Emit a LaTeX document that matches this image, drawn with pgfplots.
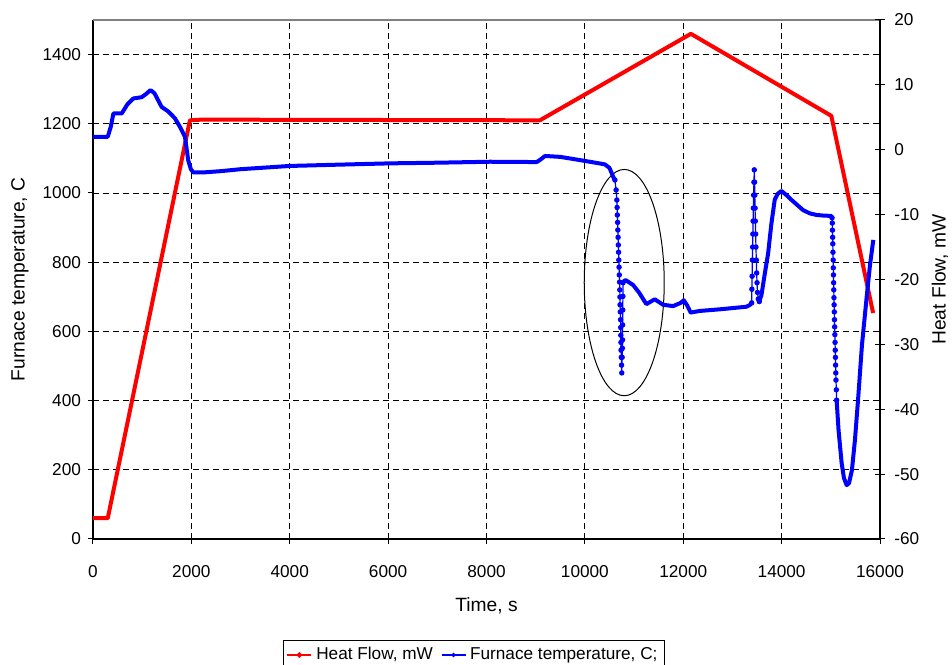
\documentclass[border=0pt]{standalone}
\usepackage{pgfplots}
\pgfplotsset{compat=1.18}
\usepackage{fontspec}
\setmainfont{Liberation Sans}
\definecolor{hfred}{RGB}{255,0,0}
\definecolor{ftblue}{RGB}{0,0,255}

\begin{document}
\begin{tikzpicture}
\pgfplotsset{
  every axis/.append style={font=\fontsize{8.6}{10}\selectfont},
  every axis label/.append style={font=\fontsize{9.6}{11}\selectfont},
  compact/.style={scale only axis, width=393.5pt, height=259.5pt, xmin=0, xmax=16000},
  thickblue/.style={ftblue, line width=2pt, line join=round, no marks},
  dotblue/.style={ftblue, line width=0.6pt, mark=*, mark size=1.05pt, mark options={solid}},
}
% left axis: time vs. furnace programme
\begin{axis}[
  compact,
  ymin=0, ymax=1500,
  xtick={0,2000,...,16000}, ytick={0,200,...,1400},
  axis x line*=bottom, axis y line*=left,
  tick align=outside, major tick length=2.5pt,
  /pgf/number format/assume math mode=true,
  /pgf/number format/1000 sep={},
  scaled x ticks=false,
  grid=major,
  grid style={black, dash pattern=on 3pt off 2pt, line width=0.4pt},
  axis line style={black, line width=0.7pt},
  tick style={black, line width=0.5pt},
  xticklabel style={yshift=-7pt},
  yticklabel style={xshift=0pt},
  xlabel={Time, s},
  xlabel style={at={(rel axis cs:0.5,0)}, anchor=center, yshift=-33.5pt},
  ylabel={Furnace temperature, C},
  ylabel style={at={(rel axis cs:0,0.5)}, anchor=center, rotate=0, yshift=36.5pt},
  legend style={at={(0.484,-0.195)}, anchor=north, legend columns=2,
    draw=black, line width=0.5pt, inner sep=1.3pt,
    font=\fontsize{8.6}{10}\selectfont,
    /tikz/every even column/.append style={column sep=2pt}},
  legend image code/.code={%
    \draw[mark repeat=2,mark phase=2,#1] plot coordinates {(0pt,0pt) (6pt,0pt) (12pt,0pt)};},
]
\draw[gray, line width=0.7pt] (rel axis cs:0,1) -- (rel axis cs:1,1);

\addplot[hfred, line width=2pt, line join=round, forget plot] coordinates {
  (0,60) (300,60) (1970,1210) (2200,1212) (9085,1210)
  (12155,1460) (15010,1223) (15860,653)
};
\addlegendimage{hfred, line width=1pt, mark=*, mark size=0.8pt}
\addlegendentry{Heat Flow, mW}
\addlegendimage{ftblue, line width=0.6pt, mark=*, mark size=0.8pt}
\addlegendentry{Furnace temperature, C;}

\draw[black, line width=0.5pt] (axis cs:10800,741) ellipse [x radius=813, y radius=327];
\end{axis}

% right axis: heat flow signal
\begin{axis}[
  compact,
  ymin=-60, ymax=20,
  ytick={-60,-50,...,20},
  axis x line=none, axis y line*=right,
  tick align=center, major tick length=5pt,
  axis line style={black, line width=0.7pt},
  tick style={black, line width=0.5pt},
  /pgf/number format/assume math mode=true,
  yticklabel style={xshift=1.1pt},
  ylabel={Heat Flow, mW},
  ylabel style={at={(rel axis cs:1,0.5)}, anchor=center, rotate=0, yshift=-30pt},
]
\coordinate (sw) at (rel axis cs:0,0);
\coordinate (ne) at (rel axis cs:1,1);

\addplot[thickblue] coordinates {
  (0,2.0) (300,2.0) (360,3.5) (415,5.6) (585,5.6) (700,7.0) (820,7.9)
  (990,8.1) (1080,8.6) (1170,9.2) (1250,8.7) (1395,6.6) (1530,5.9)
  (1665,4.85) (1770,3.5) (1870,2.0) (1935,-1.6) (1990,-3.0) (2040,-3.5)
  (2240,-3.5) (2600,-3.3) (3000,-3.0) (4000,-2.5) (5000,-2.3) (6035,-2.1)
  (7000,-2.0) (8070,-1.85) (9020,-1.9) (9100,-1.5) (9190,-0.96) (9500,-1.1)
  (9965,-1.68) (10405,-2.25) (10500,-2.8) (10575,-4.15) (10610,-4.66)
};
\addplot[dotblue] coordinates {
  (10610,-4.66) (10635,-6.2) (10650,-7.75) (10655,-8.9) (10660,-10.06)
  (10665,-11.2) (10670,-12.37) (10675,-13.5) (10680,-14.68) (10685,-15.8)
  (10690,-17.0) (10695,-18.1) (10700,-19.3) (10705,-20.4) (10710,-21.6)
  (10713,-22.7) (10715,-23.9) (10720,-25.0) (10725,-26.2) (10728,-27.4)
  (10730,-28.6) (10733,-29.7) (10735,-30.9) (10740,-32.0) (10745,-33.2)
  (10750,-34.4) (10758,-32.0) (10762,-30.6) (10765,-29.3) (10768,-27.0)
  (10770,-24.7) (10773,-22.6) (10775,-20.5)
};
\addplot[thickblue] coordinates {
  (10775,-20.5) (10800,-20.2) (10830,-20.1) (10980,-20.85) (11100,-22.0)
  (11250,-23.8) (11420,-23.05) (11590,-23.9) (11795,-24.1) (11950,-23.6)
  (12010,-23.2) (12080,-24.0) (12150,-25.1) (12335,-24.85) (12740,-24.6)
  (13285,-24.2) (13360,-23.9) (13391,-23.6)
};
\addplot[dotblue] coordinates {
  (13391,-23.6) (13395,-21.5) (13400,-19.5) (13405,-17.0) (13410,-15.0)
  (13415,-13.0) (13420,-11.0) (13425,-9.0) (13430,-7.0) (13437,-5.0)
  (13444,-3.1) (13450,-5.0) (13455,-7.0) (13460,-9.0) (13465,-11.0)
  (13472,-13.0) (13478,-15.0) (13485,-17.0) (13492,-19.0) (13500,-20.5)
  (13510,-22.0) (13525,-23.0) (13545,-23.4)
};
\addplot[thickblue] coordinates {
  (13545,-23.4) (13590,-22.4) (13660,-19.0) (13725,-16.0) (13790,-11.5)
  (13860,-7.7) (13920,-6.8) (13995,-6.35) (14100,-7.0) (14195,-7.7)
  (14300,-8.4) (14435,-9.3) (14570,-9.8) (14705,-10.05) (14850,-10.15)
  (15010,-10.2) (15025,-10.5)
};
\addplot[dotblue] coordinates {
  (15025,-10.5) (15030,-11.3) (15033,-12.4) (15037,-13.5) (15040,-14.5)
  (15044,-15.8) (15048,-17.0) (15051,-18.2) (15054,-19.3) (15057,-20.5)
  (15060,-21.6) (15064,-22.8) (15067,-23.9) (15071,-25.0) (15074,-26.2)
  (15078,-27.3) (15082,-28.5) (15086,-29.7) (15090,-30.9) (15094,-32.0)
  (15097,-33.2) (15101,-34.4) (15105,-35.5) (15112,-37.0) (15118,-38.6)
};
\addplot[thickblue] coordinates {
  (15118,-38.6) (15157,-43.2) (15220,-48.3) (15267,-50.6) (15322,-51.7)
  (15370,-51.4) (15429,-49.4) (15490,-44.8) (15558,-38.1) (15633,-30.1)
  (15729,-22.7) (15796,-17.8) (15864,-13.9)
};
\end{axis}
\pgfresetboundingbox
\path ([shift={(-46.5pt,-63pt)}]sw) rectangle ([shift={(36pt,10pt)}]ne);
\end{tikzpicture}
\end{document}
